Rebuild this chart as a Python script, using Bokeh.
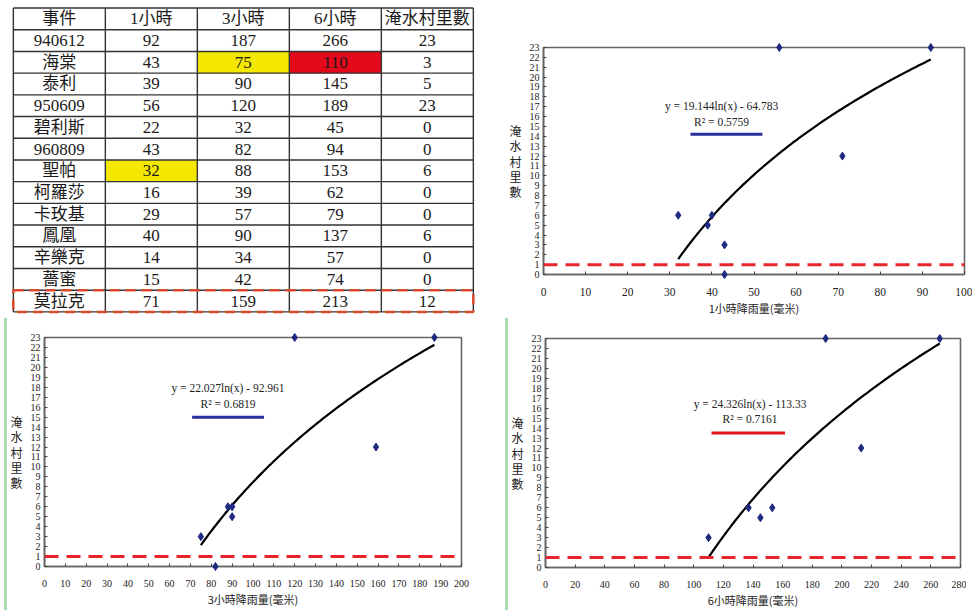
import numpy as np
from bokeh.plotting import figure
from bokeh.layouts import column, row
from bokeh.models import Range1d, FixedTicker, Span
from bokeh.core.properties import value
from bokeh.embed import file_html
from bokeh.resources import INLINE

# ---------------- data ----------------
headers = ["事件", "1小時", "3小時", "6小時", "淹水村里數"]
events = ["940612", "海棠", "泰利", "950609", "碧利斯", "960809", "聖帕",
          "柯羅莎", "卡玫基", "鳳凰", "辛樂克", "薔蜜", "莫拉克"]
rain_1h = [92, 43, 39, 56, 22, 43, 32, 16, 29, 40, 14, 15, 71]
rain_3h = [187, 75, 90, 120, 32, 82, 88, 39, 57, 90, 34, 42, 159]
rain_6h = [266, 110, 145, 189, 45, 94, 153, 62, 79, 137, 57, 74, 213]
villages = [23, 3, 5, 23, 0, 0, 6, 0, 0, 6, 0, 0, 12]

# events plotted in each scatter
plot_events_1h = ["940612", "海棠", "泰利", "950609", "960809", "聖帕", "鳳凰", "莫拉克"]
plot_events_3h = ["940612", "海棠", "泰利", "950609", "960809", "聖帕", "鳳凰", "莫拉克"]
plot_events_6h = ["940612", "海棠", "泰利", "950609", "聖帕", "鳳凰", "莫拉克"]

# logarithmic trend lines  y = a ln(x) + b
fit_1h = (19.144, -64.783)
fit_3h = (22.027, -92.961)
fit_6h = (24.326, -113.33)
eq_1h = ["y = 19.144ln(x) - 64.783", "R² = 0.5759"]
eq_3h = ["y = 22.027ln(x) - 92.961", "R² = 0.6819"]
eq_6h = ["y = 24.326ln(x) - 113.33", "R² = 0.7161"]

xlabels = ["1小時降雨量(毫米)", "3小時降雨量(毫米)", "6小時降雨量(毫米)"]
ylabel = "淹\n水\n村\n里\n數"
threshold = 1
y_max = 23

# highlighted table cells (event, column index) -> colour
highlights = {("海棠", 2): "#f4e800", ("海棠", 3): "#e3091a", ("聖帕", 1): "#f4e800"}
boxed_event = "莫拉克"

SERIF = "Liberation Serif, Noto Sans CJK TC"
CJK = "Noto Sans CJK TC"

# ---------------- table ----------------
ncol = len(headers)
nrow = len(events) + 1
tbl = figure(width=500, height=318, output_backend="svg", toolbar_location=None,
             x_axis_type=None, y_axis_type=None,
             x_range=Range1d(-0.02, -0.02 + 468 / 92.0),
             y_range=Range1d(nrow + 0.12, -0.07),
             min_border_left=11, min_border_right=21, min_border_top=6, min_border_bottom=4)
tbl.frame_align = False
tbl.outline_line_color = None
tbl.grid.visible = False

columns = [events, rain_1h, rain_3h, rain_6h, villages]
hx, hy, hc = [], [], []
for (ev, ci), col in highlights.items():
    hx.append(ci + 0.5)
    hy.append(events.index(ev) + 1.5)
    hc.append(col)
tbl.rect(x=hx, y=hy, width=1, height=1, fill_color=hc, line_color=None)

tbl.segment(x0=list(range(ncol + 1)), y0=[0] * (ncol + 1), x1=list(range(ncol + 1)),
            y1=[nrow] * (ncol + 1), line_color="#333333", line_width=1.4)
tbl.segment(x0=[0] * (nrow + 1), y0=list(range(nrow + 1)), x1=[ncol] * (nrow + 1),
            y1=list(range(nrow + 1)), line_color="#333333", line_width=1.4)

tx, ty, tt = [], [], []
for ci, h in enumerate(headers):
    tx.append(ci + 0.5); ty.append(0.5); tt.append(h)
for ci, colvals in enumerate(columns):
    for ri, v in enumerate(colvals):
        tx.append(ci + 0.5); ty.append(ri + 1.5); tt.append(str(v))
tbl.text(x=tx, y=ty, text=tt, text_align="center", text_baseline="middle",
         text_font=value(SERIF), text_font_size="17px", text_color="#1a1a1a")

bi = events.index(boxed_event) + 1
tbl.quad(left=[0], right=[ncol], top=[bi], bottom=[bi + 1], fill_color=None,
         line_color="#dc4a2a", line_width=2.5, line_dash="10 6")


# ---------------- scatter charts ----------------
def make_chart(col_vals, names, fit, eqs, eq_xy, mark_x, mark_y, mark_col,
               xmax, xstep, xlabel, tick_size, width, height, mbl, mbr, mbt, mbb, styles=None):
    xs = [col_vals[events.index(n)] for n in names]
    ys = [villages[events.index(n)] for n in names]
    kw = dict(width=width, height=height, output_backend="svg", toolbar_location=None,
              x_range=Range1d(0, xmax), y_range=Range1d(0, y_max),
              min_border_left=mbl, min_border_right=mbr, min_border_top=mbt,
              min_border_bottom=mbb)
    if styles:
        kw["styles"] = styles
    p = figure(**kw)
    p.frame_align = False
    p.outline_line_color = "#666666"
    p.outline_line_width = 1.6
    p.grid.visible = False

    p.add_layout(Span(location=threshold, dimension="width", line_color="#e8262a",
                      line_width=3, line_dash="14 8"))

    fx = np.linspace(min(xs), max(xs), 120)
    fy = fit[0] * np.log(fx) + fit[1]
    p.line(fx, fy, line_color="black", line_width=2.2)

    pts = p.scatter(xs, ys, marker="diamond", size=8, fill_color="#1d2a80",
                    line_color="#1d2a80")
    pts.level = "overlay"

    p.text(x=[eq_xy[0], eq_xy[0]], y=[eq_xy[1], eq_xy[2]], text=eqs,
           text_align="center", text_baseline="middle",
           text_font=value("Liberation Serif"), text_font_size="11.5px", text_color="#222222")
    p.line(x=mark_x, y=[mark_y, mark_y], line_color=mark_col, line_width=3)

    p.xaxis.ticker = FixedTicker(ticks=list(range(0, xmax + 1, xstep)))
    p.yaxis.ticker = FixedTicker(ticks=list(range(0, y_max + 1)))
    for ax in (p.xaxis, p.yaxis):
        ax.axis_line_color = "#666666"
        ax.axis_line_width = 1.6
        ax.major_tick_in = 3
        ax.major_tick_out = 0
        ax.minor_tick_line_color = None
        ax.major_tick_line_color = "#444444"
        ax.major_label_text_font = SERIF
        ax.major_label_text_color = "#222222"
    p.xaxis.major_label_text_font_size = tick_size
    p.yaxis.major_label_text_font_size = "10px"
    p.yaxis.major_label_standoff = 4
    p.xaxis.major_label_standoff = 13
    p.xaxis.axis_label = xlabel
    p.xaxis.axis_label_text_font = CJK
    p.xaxis.axis_label_text_font_style = "normal"
    p.xaxis.axis_label_text_font_size = "11px"
    p.xaxis.axis_label_text_color = "#222222"
    p.xaxis.axis_label_standoff = 1
    p.yaxis.axis_label = ylabel
    p.yaxis.axis_label_orientation = "horizontal"
    p.yaxis.axis_label_text_font = CJK
    p.yaxis.axis_label_text_font_style = "normal"
    p.yaxis.axis_label_text_font_size = "12px"
    p.yaxis.axis_label_text_line_height = 0.9
    p.yaxis.axis_label_text_color = "#222222"
    p.yaxis.axis_label_standoff = 5
    return p


fig1 = make_chart(rain_1h, plot_events_1h, fit_1h, eq_1h, (42.3, 17.1, 15.5),
                  [34.9, 52.0], 14.2, "#2b2f9c", 100, 10, xlabels[0], "11.5px",
                  472, 318, 43, 8, 47, 42)
fig2 = make_chart(rain_3h, plot_events_3h, fit_3h, eq_3h, (88, 17.9, 16.3),
                  [70.8, 105.3], 15.0, "#2b2f9c", 200, 10, xlabels[1], "10px",
                  493, 292, 36, 39, 19, 44,
                  styles={"border-left": "3px solid #a9dcb3", "margin-left": "4px"})
fig3 = make_chart(rain_6h, plot_events_6h, fit_6h, eq_6h, (138, 16.4, 14.9),
                  [112, 161.6], 13.5, "#e3141b", 280, 20, xlabels[2], "10px",
                  461, 292, 36, 9, 20, 43,
                  styles={"border-left": "3px solid #a9dcb3", "margin-left": "8px"})

layout = column(row(tbl, fig1), row(fig2, fig3))

open("out.html", "w").write(file_html(layout, INLINE))
